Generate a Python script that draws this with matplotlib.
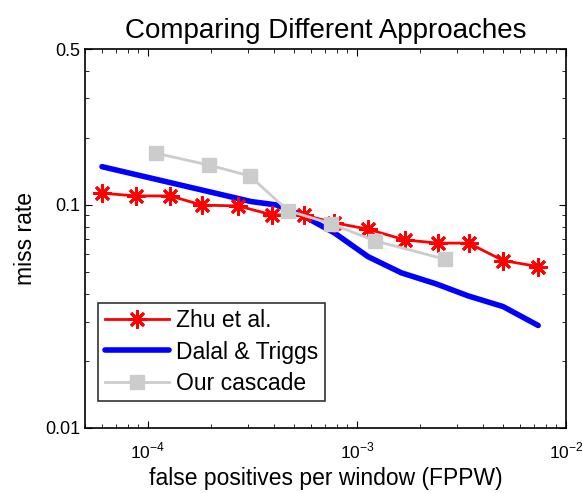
import matplotlib
matplotlib.use('Agg')
import matplotlib.pyplot as plt
import numpy as np

plt.rcParams['font.family'] = ['Liberation Sans', 'DejaVu Sans']
plt.rcParams['mathtext.fontset'] = 'custom'
plt.rcParams['mathtext.rm'] = 'Liberation Sans'

# Zhu et al.
zhu_x = [6.03e-5, 8.8e-5, 1.28e-4, 1.82e-4, 2.70e-4, 3.92e-4, 5.56e-4, 7.80e-4,
         1.13e-3, 1.69e-3, 2.43e-3, 3.42e-3, 5.00e-3, 7.36e-3]
zhu_y = [0.1128, 0.1097, 0.1097, 0.0997, 0.0990, 0.0902, 0.0902, 0.0831,
         0.0778, 0.0697, 0.0674, 0.0674, 0.0563, 0.0529]

# Dalal & Triggs
dalal_x = [6.03e-5, 3.12e-4, 4.11e-4, 5.42e-4, 7.80e-4, 1.13e-3, 1.63e-3,
           2.40e-3, 3.40e-3, 5.00e-3, 7.36e-3]
dalal_y = [0.1484, 0.1035, 0.1000, 0.0902, 0.0749, 0.0586, 0.0496,
           0.0442, 0.0391, 0.0350, 0.0288]

# Our cascade
ours_x = [1.09e-4, 1.95e-4, 3.07e-4, 4.68e-4, 7.54e-4, 1.22e-3, 2.63e-3]
ours_y = [0.1706, 0.151, 0.1349, 0.0943, 0.0822, 0.069, 0.0571]

fig = plt.figure(figsize=(5.82, 4.93), dpi=100)
ax = fig.add_axes([0.146, 0.132, 0.8265, 0.7686])

ax.plot(zhu_x, zhu_y, '-', marker=(8, 2, 0), color='red', lw=2, markersize=13,
        mew=2, zorder=3, label='Zhu et al.')
ax.plot(dalal_x, dalal_y, '-', color='blue', lw=4, solid_capstyle='round',
        zorder=2, label='Dalal & Triggs')
ax.plot(ours_x, ours_y, '-s', color='#cccccc', lw=2, markersize=10,
        zorder=4, label='Our cascade')

ax.set_xscale('log')
ax.set_yscale('log')
ax.set_xlim(5e-5, 1e-2)
ax.set_ylim(0.01, 0.5)

ax.set_yticks([0.01, 0.1, 0.5])
ax.set_yticklabels(['0.01', '0.1', '0.5'])
ax.set_yticks([0.02, 0.03, 0.04, 0.05, 0.06, 0.07, 0.08, 0.09, 0.2, 0.3, 0.4], minor=True)
ax.yaxis.set_minor_formatter(matplotlib.ticker.NullFormatter())

ax.set_xticks([1e-4, 1e-3, 1e-2])
ax.set_xticklabels([r'$10^{-4}$', r'$10^{-3}$', r'$10^{-2}$'])

ax.tick_params(which='both', direction='in', top=True, right=True, labelsize=13)
ax.tick_params(axis='x', labelsize=12.5, pad=9)
ax.tick_params(which='major', length=5)
ax.tick_params(which='minor', length=3)

for s in ax.spines.values():
    s.set_linewidth(1.2)

ax.set_title('Comparing Different Approaches', fontsize=20, pad=8)
ax.set_xlabel('false positives per window (FPPW)', fontsize=16.5, labelpad=4)
ax.set_ylabel('miss rate', fontsize=16.5, labelpad=6)

leg = ax.legend(loc='lower left', bbox_to_anchor=(0.027, 0.07), fontsize=16.5,
                frameon=True, fancybox=False, edgecolor='black',
                handlelength=2.8, borderpad=0.3, labelspacing=0.35,
                handletextpad=0.3, borderaxespad=0)
leg.get_frame().set_linewidth(1.2)

fig.savefig('out.png', dpi=100)
